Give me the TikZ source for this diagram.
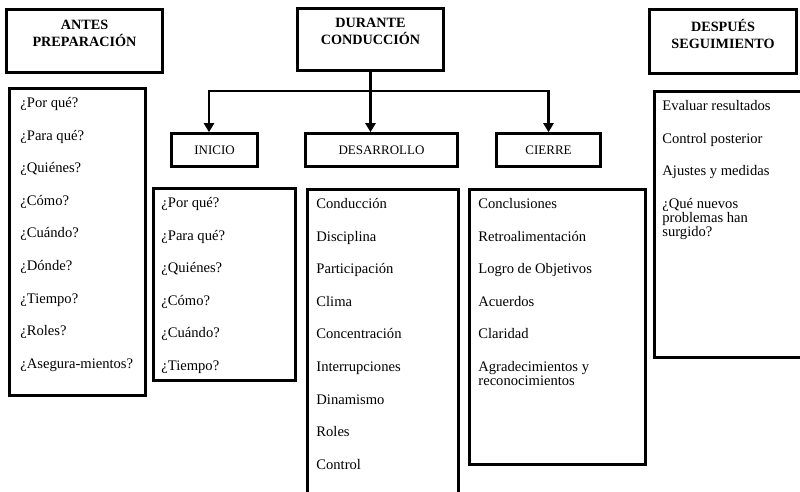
\documentclass[tikz,border=0pt]{standalone}
\usepackage{fontspec}
\setmainfont{Liberation Serif}
\usetikzlibrary{positioning,arrows.meta}
\newcommand{\salto}{\\[18.6pt]}
\tikzset{
  caja/.style={draw, line width=2.6pt, inner sep=0pt},
  cabecera/.style={font=\fontsize{14.2}{17}\selectfont\bfseries, align=center, inner sep=0pt},
  etapa/.style={font=\fontsize{13}{15}\selectfont},
  lista/.style={font=\fontsize{14.6}{14}\selectfont, align=left, inner sep=0pt, anchor=north west},
  flecha/.style={line width=2.6pt, -{Triangle[width=10pt,length=9pt]}}
}
\begin{document}
\begin{tikzpicture}[x=1pt,y=-1pt]
  \useasboundingbox (0,0) rectangle (800,492);
  % cabeceras
  \node[caja, minimum width=156pt, minimum height=63pt] (antes) at (84.5,41) {};
  \node[caja, minimum width=146pt, minimum height=62pt] (durante) at (370.5,39.5) {};
  \node[caja, minimum width=147pt, minimum height=64pt] (despues) at (723,41.5) {};
  \node[cabecera, below=12pt] (antesTxt) at (antes.north) {ANTES\\PREPARACIÓN};
  \node[cabecera, below=10.5pt] (duranteTxt) at (durante.north) {DURANTE\\CONDUCCIÓN};
  \node[cabecera, below=11pt] (despuesTxt) at (despues.north) {DESPUÉS\\SEGUIMIENTO};
  % etapas
  \node[caja, etapa, minimum width=86pt, minimum height=33pt] (inicio) at (214.5,150) {INICIO};
  \node[caja, etapa, minimum width=152pt, minimum height=33pt] (desarrollo) at (381.5,150) {DESARROLLO};
  \node[caja, etapa, minimum width=104pt, minimum height=33pt] (cierre) at (548.5,150) {CIERRE};
  \coordinate (barra) at (372,91);
  \draw[flecha] (durante.south) -- (durante.south |- desarrollo.north);
  \draw[flecha] (barra) -| ([xshift=-5.5pt]inicio.north);
  \draw[flecha] (barra) -| (cierre.north);
  % listas
  \node[caja, minimum width=136pt, minimum height=307pt] (antesLista) at (77.5,242) {};
  \node[caja, minimum width=142pt, minimum height=192pt] (inicioLista) at (224.5,284.5) {};
  \node[caja, minimum width=151pt, minimum height=306pt] (desarrolloLista) at (383,342.5) {};
  \node[caja, minimum width=176pt, minimum height=275pt] (cierreLista) at (557.5,327) {};
  \node[caja, minimum width=158pt, minimum height=266pt] (despuesLista) at (733.5,224.5) {};
  \node[lista] (antesItems) at ([shift={(12pt,-10pt)}]antesLista.north west)
    {¿Por qué?\salto ¿Para qué?\salto ¿Quiénes?\salto ¿Cómo?\salto ¿Cuándo?\salto
     ¿Dónde?\salto ¿Tiempo?\salto ¿Roles?\salto ¿Asegura-mientos?};
  \node[lista] (inicioItems) at ([shift={(9pt,-10pt)}]inicioLista.north west)
    {¿Por qué?\salto ¿Para qué?\salto ¿Quiénes?\salto ¿Cómo?\salto ¿Cuándo?\salto ¿Tiempo?};
  \node[lista] (desarrolloItems) at ([shift={(10pt,-10pt)}]desarrolloLista.north west)
    {Conducción\salto Disciplina\salto Participación\salto Clima\salto Concentración\salto
     Interrupciones\salto Dinamismo\salto Roles\salto Control};
  \node[lista] (cierreItems) at ([shift={(10pt,-10pt)}]cierreLista.north west)
    {Conclusiones\salto Retroalimentación\salto Logro de Objetivos\salto Acuerdos\salto
     Claridad\salto Agradecimientos y\\reconocimientos};
  \node[lista] (despuesItems) at ([shift={(9pt,-10pt)}]despuesLista.north west)
    {Evaluar resultados\salto Control posterior\salto Ajustes y medidas\salto
     ¿Qué nuevos\\problemas han\\surgido?};
\end{tikzpicture}
\end{document}
